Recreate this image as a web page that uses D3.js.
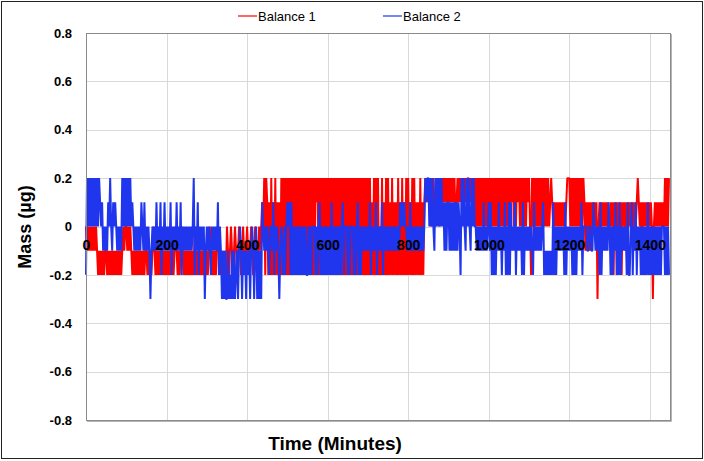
<!DOCTYPE html>
<html>
<head>
<meta charset="utf-8">
<script src="https://cdn.jsdelivr.net/npm/d3@7"></script>
<style>
  html, body { margin: 0; padding: 0; background: #fff; }
  svg { display: block; }
  text { font-family: "Liberation Sans", Arial, sans-serif; }
</style>
</head>
<body>
<svg id="chart" width="704" height="461"></svg>
<script>
// Sample step of the two balance records (minutes)
const stepMinutes = 2.5;
// Values in tenths of a microgram, coded per sample: '0'=-0.3 '1'=-0.2 '2'=-0.1 '3'=0 '4'=0.1 '5'=0.2
// Each chunk covers 50 minutes (20 samples).
const balance1Chunks = [
  "32323232323212121212","21212121212121212323","32323212121212121212","21212123212121212121",
  "21212121232121232121","21212121312121212121","21232121212321212121","32123212321232123212",
  "32123212321232343515","41415141514141515151","51515151515151515151","51515151545151515151",
  "51515151515151515151","51515151515151515151","51514151515131514151","51415141415141514151",
  "51415151414151414545","45434543454354545454","54545453454545454545","54545453535353535353",
  "53535353535353535353","53545353545353535354","53153535353535353535","34543434343434343455",
  "53535353535353542424","24243434034343434343","34341434243414342434","34342434543414343434",
  "34303434343434353535"
];
const balance2Chunks = [
  "15353535353535434232","32435324343232325353","53535343232323243242","32320232324232413242",
  "32324132324232413232","32323235132413232302","32321323232413202020","02010202012023202120",
  "21202320230202043232","32133241323202321313","43414131313131313131","13131333131341313131",
  "31314131313131341333","13133313134131323232","32413232413232413232","32323232323243434332",
  "32423232323232323545","53535325353535342424","42424242424315353253","53253533232323242323",
  "42413131324231324131","41423241323231413232","32321423232323412121","21214131323232314132",
  "32313131323241333322","33224323231413232324","31313241314132323141","13413241323131313141",
  "31313131313133313131"
];
const seriesNames = ["Balance 1", "Balance 2"];
const seriesColors = ["#ff0000", "#1f35ee"];
const xTicks = [0, 200, 400, 600, 800, 1000, 1200, 1400];
const yTicks = [-0.8, -0.6, -0.4, -0.2, 0, 0.2, 0.4, 0.6, 0.8];
const xTitle = "Time (Minutes)";
const yTitle = "Mass (µg)";

function decode(chunks) {
  const s = chunks.join("");
  return Array.from(s).map((c, i) => ({ t: i * stepMinutes, v: (+c - 3) / 10 }));
}
const series = [decode(balance1Chunks), decode(balance2Chunks)];

const svg = d3.select("#chart");
const x = d3.scaleLinear().domain([0, 1450]).range([86, 670]);
const y = d3.scaleLinear().domain([-0.8, 0.8]).range([420, 33]);

// outer frame
svg.append("rect").attr("x", 1.5).attr("y", 1.5).attr("width", 701).attr("height", 457)
  .attr("fill", "none").attr("stroke", "#222").attr("stroke-width", 1);

// grid
const grid = svg.append("g");
grid.selectAll("line.v").data(xTicks.filter(d => d > 0)).join("line")
  .attr("x1", d => Math.round(x(d)) + 0.5).attr("x2", d => Math.round(x(d)) + 0.5)
  .attr("y1", y(0.8)).attr("y2", y(-0.8)).attr("stroke", "#d9d9d9").attr("stroke-width", 1);
grid.selectAll("line.h").data(yTicks.filter(d => Math.abs(d) < 0.79)).join("line")
  .attr("x1", x(0)).attr("x2", x(1450))
  .attr("y1", d => Math.round(y(d)) + 0.5).attr("y2", d => Math.round(y(d)) + 0.5)
  .attr("stroke", "#d9d9d9").attr("stroke-width", 1);

// data lines
const line = d3.line().x(d => x(d.t)).y(d => y(d.v));
series.forEach((s, i) => {
  svg.append("path").datum(s).attr("d", line)
    .attr("fill", "none").attr("stroke", seriesColors[i]).attr("stroke-width", 2)
    .attr("stroke-linejoin", "bevel");
});

// plot border with slight shadow
svg.append("line").attr("x1", x(0) + 1).attr("x2", x(1450) + 1.5).attr("y1", y(-0.8) + 1.5).attr("y2", y(-0.8) + 1.5)
  .attr("stroke", "#b5b5b5").attr("stroke-width", 1);
svg.append("line").attr("x1", x(1450) + 1.5).attr("x2", x(1450) + 1.5).attr("y1", y(0.8) + 1).attr("y2", y(-0.8) + 1.5)
  .attr("stroke", "#b5b5b5").attr("stroke-width", 1);
svg.append("rect").attr("x", x(0) + 0.5).attr("y", y(0.8) + 0.5)
  .attr("width", x(1450) - x(0)).attr("height", y(-0.8) - y(0.8))
  .attr("fill", "none").attr("stroke", "#8a8a8a").attr("stroke-width", 1);

// x axis labels (drawn on the zero line, over the data)
const xAxis = d3.axisBottom(x).tickValues(xTicks).tickSize(0).tickPadding(0).tickFormat(d3.format("d"));
const gx = svg.append("g").attr("transform", "translate(0,240)").call(xAxis);
gx.select(".domain").remove();
gx.selectAll("text").attr("font-size", 14).attr("font-weight", "bold").attr("fill", "#000")
  .attr("font-family", "'Liberation Sans', Arial, sans-serif");

// y axis labels
const yAxis = d3.axisLeft(y).tickValues(yTicks).tickSize(0).tickPadding(0)
  .tickFormat(d => Math.abs(d) < 1e-9 ? "0" : d.toFixed(1));
const gy = svg.append("g").attr("transform", "translate(72,0)").call(yAxis);
gy.select(".domain").remove();
gy.selectAll("text").attr("font-size", 13).attr("font-weight", "bold").attr("fill", "#000")
  .attr("font-family", "'Liberation Sans', Arial, sans-serif");

// axis titles
svg.append("text").attr("x", 335).attr("y", 450).attr("text-anchor", "middle")
  .attr("font-size", 19).attr("font-weight", "bold").attr("fill", "#000").text(xTitle);
svg.append("text").attr("transform", "translate(31,227) rotate(-90)").attr("text-anchor", "middle")
  .attr("font-size", 18).attr("font-weight", "bold").attr("fill", "#000").text(yTitle);

// legend
const legendX = [238, 383];
seriesNames.forEach((name, i) => {
  const g = svg.append("g").attr("transform", `translate(${legendX[i]},16)`);
  g.append("line").attr("x1", 0).attr("x2", 19).attr("y1", 0).attr("y2", 0)
    .attr("stroke", seriesColors[i]).attr("stroke-width", 1.2);
  g.append("text").attr("x", 20).attr("y", 5).attr("font-size", 13).attr("fill", "#000").text(name);
});
</script>
</body>
</html>
